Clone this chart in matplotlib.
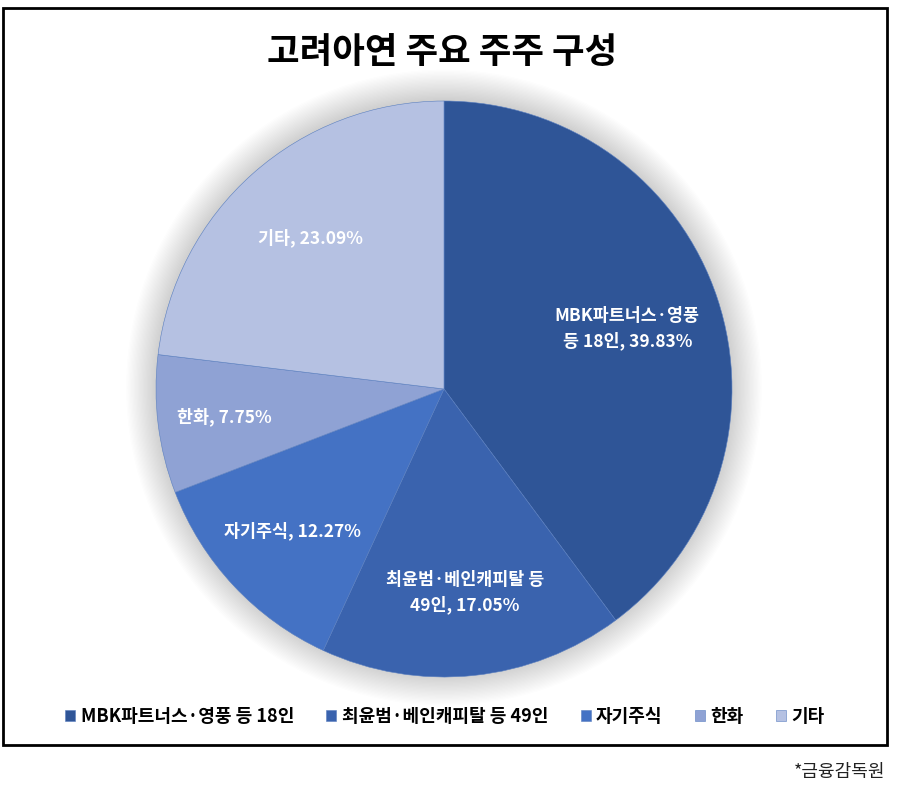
import numpy as np
import matplotlib
matplotlib.use("Agg")
import matplotlib.pyplot as plt
from matplotlib.patches import Rectangle, Circle

plt.rcParams['font.family'] = ['Noto Sans CJK KR', 'DejaVu Sans']

# --- 데이터 ---
names = ["MBK파트너스·영풍 등 18인", "최윤범·베인캐피탈 등 49인", "자기주식", "한화", "기타"]
label_texts = ["MBK파트너스·영풍\n등 18인, 39.83%", "최윤범·베인캐피탈 등\n49인, 17.05%",
               "자기주식, 12.27%", "한화, 7.75%", "기타, 23.09%"]
shares = [39.83, 17.05, 12.27, 7.75, 23.09]
colors = ["#2F5597", "#3A63AE", "#4472C4", "#8FA2D4", "#B5C1E2"]

fig = plt.figure(figsize=(9.07, 7.94), dpi=100)
W, H = 907, 794

# 파이 위치 (픽셀 기준)
cx, cy, r = 444, 389, 288
ax = fig.add_axes([(cx - r) / W, (H - cy - r) / H, 2 * r / W, 2 * r / H])

# 부드러운 그림자
for k in range(24):
    ax.add_patch(Circle((0, 0.005), 1.0 + 0.0045 * k, color="#7a7a7a", alpha=0.012,
                        lw=0, zorder=0, clip_on=False))

wedges, _ = ax.pie(shares, colors=colors, startangle=90, counterclock=False, radius=1.0,
                   wedgeprops=dict(linewidth=0.4, edgecolor="#5a7fc0"))
for w in wedges:
    w.set_zorder(2)
    w.set_clip_on(False)

label_r = [0.67, 0.71, 0.72, 0.77, 0.70]
for w, txt, lr in zip(wedges, label_texts, label_r):
    mid = np.deg2rad((w.theta1 + w.theta2) / 2)
    ax.text(lr * np.cos(mid), lr * np.sin(mid), txt, ha="center", va="center",
            color="white", fontsize=12.5, fontweight="bold", linespacing=1.45, zorder=3)

ax.set_xlim(-1, 1)
ax.set_ylim(-1, 1)
ax.set_aspect("equal")
ax.axis("off")

# 제목
fig.text(442 / W, 1 - 52 / H, "고려아연 주요 주주 구성", ha="center", va="center",
         fontsize=25.5, fontweight="bold", color="black")

# 범례
leg = fig.legend(wedges, names, loc="center", bbox_to_anchor=(445 / W, 1 - 716 / H), ncol=5,
                 frameon=False, fontsize=13, handlelength=0.55, handleheight=0.55,
                 handletextpad=0.3, columnspacing=1.8)
for t in leg.get_texts():
    t.set_fontweight("bold")

# 테두리
fig.patches.append(Rectangle((3 / W, 1 - 745 / H), 884 / W, 737 / H, transform=fig.transFigure,
                             fill=False, edgecolor="black", linewidth=2))

# 출처
fig.text(885 / W, 1 - 772 / H, "*금융감독원", ha="right", va="center", fontsize=13, color="#222222")

fig.savefig("out.png", dpi=100)
